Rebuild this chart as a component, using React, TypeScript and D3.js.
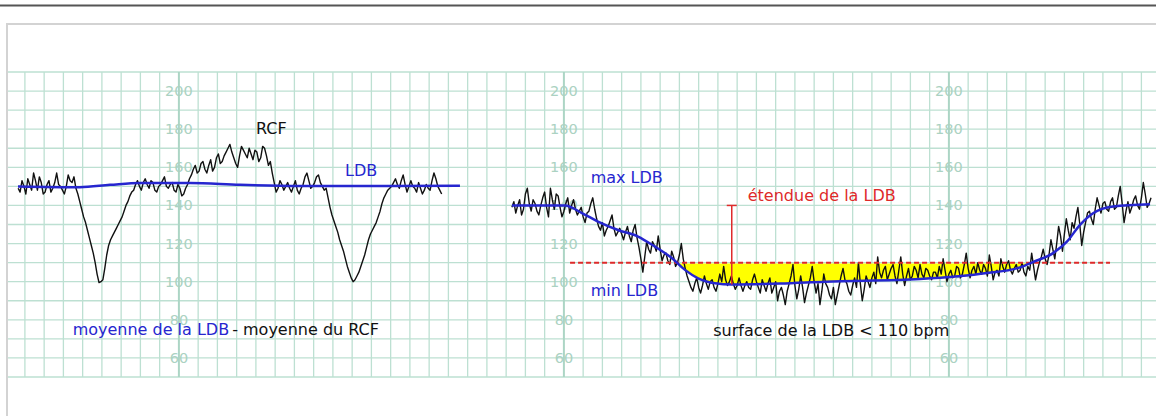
import React from 'react';
import * as d3 from 'd3';

const W = 1156;
const H = 416;

// bpm scale labels, repeated on three grid columns
const TICK_VALUES = [200, 180, 160, 140, 120, 100, 80, 60];
const LABEL_COLUMNS = [9, 29, 49];

// sampling of the traces (grid-cell units)
const STEP = 0.1;

// Left panel: heart rate (RCF) and baseline (LDB)
const LEFT_T0 = 0.65;
const LEFT_RCF = [
  149, 147, 153, 150, 146, 154, 151, 148, 157, 153,
  148, 155, 152, 146, 147, 151, 153, 147, 149, 152,
  157, 151, 150, 148, 146, 150, 156, 153, 152, 155,
  149, 146, 142, 138, 134, 131, 127, 123, 119, 115,
  110, 104, 99.5, 100, 101, 107, 114, 119, 122, 124,
  126, 128, 130, 132, 134, 137, 140, 142, 145, 147,
  148, 151, 153, 150, 148, 152, 154, 151, 149, 153,
  152, 148, 147, 150, 151, 153, 155, 150, 149, 151,
  152, 148, 147, 151, 149, 145, 146, 149, 151, 154,
  156, 159, 161, 157, 158, 162, 163, 159, 157, 161,
  164, 158, 160, 165, 167, 162, 163, 166, 168, 170,
  172, 168, 165, 162, 160, 166, 171, 169, 167, 165,
  170, 167, 164, 169, 168, 163, 165, 171, 170, 166,
  161, 163, 157, 152, 147, 149, 153, 151, 148, 150,
  152, 149, 147, 150, 153, 148, 146, 149, 151, 155,
  157, 153, 149, 150, 152, 155, 156, 152, 150, 148,
  149, 144, 139, 135, 132, 129, 126, 122, 119, 116,
  112, 108, 105, 102, 100, 101, 103, 105, 108, 111,
  114, 118, 122, 125, 127, 129, 131, 134, 137, 141,
  144, 146, 148, 149, 150, 152, 154, 151, 149, 153,
  156, 151, 147, 150, 153, 150, 149, 147, 152, 149,
  146, 148, 151, 149, 148, 153, 157, 154, 150, 148,
  146,
];
const LEFT_LDB_T = [0.64, 3.86, 5.42, 6.98, 9.58, 12.17, 15.29, 23.6];
const LEFT_LDB_V = [150, 149.6, 150.8, 151.8, 151.8, 150.8, 150.2, 150.3];

// Right panel
const RIGHT_T0 = 26.3;
const RIGHT_RCF = [
  139, 142, 136, 140, 143, 135, 138, 146, 149, 141,
  137, 143, 141, 137, 135, 140, 144, 147, 139, 134,
  149, 143, 138, 146, 145, 139, 134, 137, 141, 144,
  136, 140, 143, 138, 135, 137, 139, 134, 131, 136,
  137, 141, 144, 138, 133, 129, 127, 131, 124, 127,
  129, 132, 135, 128, 124, 126, 128, 125, 122, 126,
  129, 124, 121, 127, 130, 123, 118, 112, 105, 113,
  121, 117, 115, 121, 119, 116, 124, 117, 111, 114,
  115, 111, 109, 116, 113, 108, 110, 114, 120, 112,
  107, 103, 100, 97, 95, 99, 102, 97, 94, 98,
  103, 99, 96, 100, 101, 97, 95, 99, 104, 100,
  108, 101, 98, 100, 103, 99, 96, 98, 102, 98,
  95, 98, 100, 97, 96, 101, 104, 100, 97, 94,
  101, 98, 95, 99, 102, 94, 97, 100, 90, 95,
  97, 93, 88, 95, 99, 103, 109, 98, 91, 96,
  103, 97, 89, 94, 98, 102, 108, 100, 94, 99,
  88, 95, 104, 99, 97, 93, 91, 97, 88, 93,
  98, 103, 107, 101, 99, 95, 93, 98, 102, 97,
  110, 99, 90, 96, 103, 100, 97, 102, 105, 99,
  113, 105, 102, 106, 108, 101, 104, 107, 109, 103,
  99, 106, 113, 104, 98, 103, 107, 101, 103, 108,
  106, 102, 109, 104, 102, 107, 106, 103, 101, 105,
  105, 102, 108, 104, 112, 106, 100, 104, 106, 102,
  103, 108, 107, 102, 104, 109, 115, 107, 102, 106,
  108, 104, 110, 106, 104, 109, 107, 103, 114, 108,
  101, 105, 106, 103, 112, 108, 105, 109, 111, 106,
  104, 107, 109, 105, 106, 110, 105, 103, 108, 106,
  115, 108, 101, 106, 110, 113, 117, 112, 109, 114,
  122, 117, 112, 120, 129, 124, 116, 125, 133, 127,
  122, 131, 128, 134, 139, 130, 119, 126, 131, 136,
  137, 133, 130, 138, 144, 140, 136, 141, 142, 138,
  137, 142, 144, 138, 139, 145, 150, 141, 131, 137,
  142, 136, 139, 143, 145, 140, 138, 144, 152, 146,
  139, 141, 144,
];
const RIGHT_LDB_T = [26.3, 29.06, 29.94, 30.77, 31.81, 32.85, 33.73, 34.62, 35.29, 35.97, 36.85, 37.73, 40.23, 42.56, 47.5, 50.98, 52.69, 53.37, 54.41, 55.13, 55.81, 56.49, 57.53, 59.45];
const RIGHT_LDB_V = [140, 140, 136, 131.5, 127.1, 123.7, 118.4, 112.3, 106.2, 101.8, 99.2, 98.5, 99, 100, 101.4, 104.5, 107.5, 110.3, 115, 121, 129.8, 135.9, 139.4, 140.6];

const THRESHOLD = 110;
const THRESHOLD_T = [29.32, 57.37];
const MAX_LDB = 140;
const MIN_LDB = 98.5;
const RANGE_T = 37.72;

const BLUE = '#2626cf';
const RED = '#de2a2a';

const ANNOTATIONS = [
  { text: 'RCF', t: 13.0, v: 177.3, color: '#111' },
  { text: 'LDB', t: 17.63, v: 155.5, color: BLUE },
  { text: 'max LDB', t: 30.39, v: 151.9, color: BLUE },
  { text: 'étendue de la LDB', t: 38.55, v: 142.1, color: RED },
  { text: 'min LDB', t: 30.39, v: 92.5, color: BLUE },
  { text: 'surface de la LDB < 110 bpm', t: 36.76, v: 71.5, color: '#111' },
];

export default function App() {
  const x = d3.scaleLinear().domain([0, 60]).range([5.65, 5.65 + 60 * 19.25]);
  const y = d3.scaleLinear().domain([50, 210]).range([377, 72]);

  const gridT = d3.range(1, 60);
  const gridV = d3.range(50, 211, 10);

  const trace = (t0: number) =>
    d3
      .line<number>()
      .x((_, i) => x(t0 + i * STEP))
      .y((v) => y(v));

  const ldbLine = d3
    .line<[number, number]>()
    .x((d) => x(d[0]))
    .y((d) => y(d[1]))
    .curve(d3.curveMonotoneX);

  const leftLdb = LEFT_LDB_T.map((t, i) => [t, LEFT_LDB_V[i]] as [number, number]);
  const rightLdb = RIGHT_LDB_T.map((t, i) => [t, RIGHT_LDB_V[i]] as [number, number]);

  const yellowArea = d3
    .area<[number, number]>()
    .x((d) => x(d[0]))
    .y0(() => y(THRESHOLD))
    .y1((d) => y(d[1]))
    .curve(d3.curveMonotoneX);

  const font = '"DejaVu Sans", Verdana, sans-serif';

  return (
    <svg
      width={W}
      height={H}
      style={{ position: 'absolute', left: 0, top: 0, background: '#fff' }}
      fontFamily={font}
    >
      <rect x={0} y={0} width={W} height={H} fill="#fff" />
      {/* page rule and panel frame */}
      <line x1={0} x2={W} y1={5.5} y2={5.5} stroke="#555" strokeWidth={2} />
      <rect x={7} y={24} width={W + 20} height={H} fill="none" stroke="#d3d3d3" strokeWidth={2} />

      <defs>
        <clipPath id="below110">
          <rect x={0} y={y(THRESHOLD) + 0.8} width={W} height={H} />
        </clipPath>
      </defs>

      {/* grid */}
      <g>
        {gridV.map((v) => (
          <line key={'h' + v} x1={8} x2={W} y1={y(v)} y2={y(v)} stroke="#bde0d2" strokeWidth={1.3} />
        ))}
        {gridT.map((t) => (
          <line
            key={'v' + t}
            x1={x(t)}
            x2={x(t)}
            y1={y(210)}
            y2={y(50)}
            stroke={LABEL_COLUMNS.includes(t) ? '#acd5c5' : '#bde0d2'}
            strokeWidth={LABEL_COLUMNS.includes(t) ? 2 : 1.3}
          />
        ))}
      </g>

      {/* scale labels */}
      <g fontSize={14.5} fill="#abd2c2" textAnchor="middle">
        {LABEL_COLUMNS.map((c) =>
          TICK_VALUES.map((v) => (
            <text key={c + '-' + v} x={x(c)} y={y(v) + 5}>
              {v}
            </text>
          ))
        )}
      </g>

      {/* surface below 110 */}
      <path d={yellowArea(rightLdb) || ''} fill="#ffff00" clipPath="url(#below110)" />

      {/* traces */}
      <path d={trace(LEFT_T0)(LEFT_RCF) || ''} fill="none" stroke="#111" strokeWidth={1.4} strokeLinejoin="round" />
      <path d={trace(RIGHT_T0)(RIGHT_RCF) || ''} fill="none" stroke="#111" strokeWidth={1.4} strokeLinejoin="round" />

      {/* threshold */}
      <line
        x1={x(THRESHOLD_T[0])}
        x2={x(THRESHOLD_T[1])}
        y1={y(THRESHOLD)}
        y2={y(THRESHOLD)}
        stroke={RED}
        strokeWidth={2}
        strokeDasharray="5,3"
      />

      {/* baselines */}
      <path d={ldbLine(leftLdb) || ''} fill="none" stroke={BLUE} strokeWidth={2.5} />
      <path d={ldbLine(rightLdb) || ''} fill="none" stroke={BLUE} strokeWidth={2.5} />

      {/* range of baseline */}
      <line x1={x(RANGE_T)} x2={x(RANGE_T)} y1={y(MAX_LDB)} y2={y(MIN_LDB)} stroke={RED} strokeWidth={1.5} />
      <line x1={x(RANGE_T) - 5} x2={x(RANGE_T) + 5} y1={y(MAX_LDB)} y2={y(MAX_LDB)} stroke={RED} strokeWidth={1.5} />

      {/* annotations */}
      <g fontSize={16}>
        {ANNOTATIONS.map((a) => (
          <text key={a.text} x={x(a.t)} y={y(a.v)} fill={a.color}>
            {a.text}
          </text>
        ))}
        <text x={x(3.48)} y={y(72)}>
          <tspan fill={BLUE}>moyenne de la LDB</tspan>
          <tspan fill="#111" dx={3}>- moyenne du RCF</tspan>
        </text>
      </g>
    </svg>
  );
}
